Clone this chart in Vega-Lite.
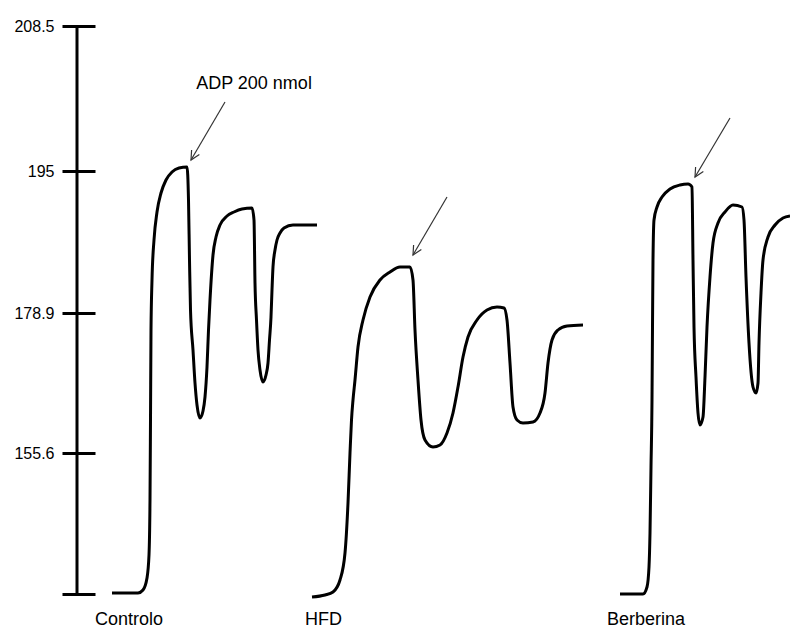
{
  "$schema": "https://vega.github.io/schema/vega-lite/v6.json",
  "width": 713,
  "height": 568,
  "autosize": {"type": "none"},
  "padding": {"left": 77, "top": 26, "right": 0, "bottom": 37},
  "background": "white",
  "config": {"view": {"stroke": null}, "font": "Liberation Sans"},
  "datasets": {
    "traces": [
      {"group": "Controlo", "t": 35, "v": 1}, {"group": "Controlo", "t": 61, "v": 1}, {"group": "Controlo", "t": 66, "v": 4}, {"group": "Controlo", "t": 70, "v": 16}, {"group": "Controlo", "t": 72, "v": 39}, {"group": "Controlo", "t": 73, "v": 94}, {"group": "Controlo", "t": 73.5, "v": 174}, {"group": "Controlo", "t": 74, "v": 264}, {"group": "Controlo", "t": 75, "v": 314}, {"group": "Controlo", "t": 77, "v": 354}, {"group": "Controlo", "t": 80, "v": 382}, {"group": "Controlo", "t": 84, "v": 401}, {"group": "Controlo", "t": 89, "v": 414}, {"group": "Controlo", "t": 95, "v": 422}, {"group": "Controlo", "t": 102, "v": 426}, {"group": "Controlo", "t": 110, "v": 427}, {"group": "Controlo", "t": 111.5, "v": 394}, {"group": "Controlo", "t": 112.5, "v": 334}, {"group": "Controlo", "t": 113.5, "v": 284}, {"group": "Controlo", "t": 116, "v": 244}, {"group": "Controlo", "t": 118, "v": 211}, {"group": "Controlo", "t": 120, "v": 189}, {"group": "Controlo", "t": 123, "v": 176}, {"group": "Controlo", "t": 126, "v": 183}, {"group": "Controlo", "t": 128, "v": 197}, {"group": "Controlo", "t": 130, "v": 227}, {"group": "Controlo", "t": 131.5, "v": 264}, {"group": "Controlo", "t": 133, "v": 294}, {"group": "Controlo", "t": 136, "v": 339}, {"group": "Controlo", "t": 139, "v": 357}, {"group": "Controlo", "t": 143, "v": 369}, {"group": "Controlo", "t": 150, "v": 378}, {"group": "Controlo", "t": 157, "v": 382}, {"group": "Controlo", "t": 165, "v": 385}, {"group": "Controlo", "t": 175, "v": 386}, {"group": "Controlo", "t": 177, "v": 374}, {"group": "Controlo", "t": 178, "v": 311}, {"group": "Controlo", "t": 179.5, "v": 274}, {"group": "Controlo", "t": 181, "v": 244}, {"group": "Controlo", "t": 183, "v": 224}, {"group": "Controlo", "t": 186, "v": 212}, {"group": "Controlo", "t": 189, "v": 219}, {"group": "Controlo", "t": 191, "v": 231}, {"group": "Controlo", "t": 192.5, "v": 254}, {"group": "Controlo", "t": 194, "v": 277}, {"group": "Controlo", "t": 195, "v": 304}, {"group": "Controlo", "t": 196, "v": 327}, {"group": "Controlo", "t": 198, "v": 344}, {"group": "Controlo", "t": 200, "v": 354}, {"group": "Controlo", "t": 203, "v": 361}, {"group": "Controlo", "t": 207, "v": 366}, {"group": "Controlo", "t": 216, "v": 369}, {"group": "Controlo", "t": 240, "v": 369},
      {"group": "HFD", "t": 235, "v": -3}, {"group": "HFD", "t": 248, "v": -1}, {"group": "HFD", "t": 256, "v": 2}, {"group": "HFD", "t": 263, "v": 14}, {"group": "HFD", "t": 268, "v": 41}, {"group": "HFD", "t": 271, "v": 91}, {"group": "HFD", "t": 273, "v": 141}, {"group": "HFD", "t": 274.5, "v": 174}, {"group": "HFD", "t": 276, "v": 194}, {"group": "HFD", "t": 278, "v": 214}, {"group": "HFD", "t": 281, "v": 247}, {"group": "HFD", "t": 286, "v": 274}, {"group": "HFD", "t": 293, "v": 297}, {"group": "HFD", "t": 303, "v": 314}, {"group": "HFD", "t": 313, "v": 322}, {"group": "HFD", "t": 323, "v": 327}, {"group": "HFD", "t": 333, "v": 327}, {"group": "HFD", "t": 336, "v": 314}, {"group": "HFD", "t": 338, "v": 264}, {"group": "HFD", "t": 341, "v": 214}, {"group": "HFD", "t": 344, "v": 174}, {"group": "HFD", "t": 348, "v": 154}, {"group": "HFD", "t": 356, "v": 147}, {"group": "HFD", "t": 363, "v": 149}, {"group": "HFD", "t": 370, "v": 161}, {"group": "HFD", "t": 376, "v": 181}, {"group": "HFD", "t": 381, "v": 207}, {"group": "HFD", "t": 386, "v": 237}, {"group": "HFD", "t": 391, "v": 257}, {"group": "HFD", "t": 400, "v": 274}, {"group": "HFD", "t": 410, "v": 284}, {"group": "HFD", "t": 420, "v": 287}, {"group": "HFD", "t": 427, "v": 286}, {"group": "HFD", "t": 430, "v": 274}, {"group": "HFD", "t": 433, "v": 231}, {"group": "HFD", "t": 436, "v": 187}, {"group": "HFD", "t": 440, "v": 174}, {"group": "HFD", "t": 446, "v": 171}, {"group": "HFD", "t": 456, "v": 172}, {"group": "HFD", "t": 463, "v": 181}, {"group": "HFD", "t": 468, "v": 201}, {"group": "HFD", "t": 471, "v": 231}, {"group": "HFD", "t": 475, "v": 254}, {"group": "HFD", "t": 481, "v": 264}, {"group": "HFD", "t": 490, "v": 268}, {"group": "HFD", "t": 506, "v": 269},
      {"group": "Berberina", "t": 543, "v": 0}, {"group": "Berberina", "t": 566, "v": 0}, {"group": "Berberina", "t": 570, "v": 7}, {"group": "Berberina", "t": 572, "v": 27}, {"group": "Berberina", "t": 573, "v": 61}, {"group": "Berberina", "t": 574, "v": 127}, {"group": "Berberina", "t": 575, "v": 194}, {"group": "Berberina", "t": 575.5, "v": 267}, {"group": "Berberina", "t": 576, "v": 334}, {"group": "Berberina", "t": 577, "v": 374}, {"group": "Berberina", "t": 580, "v": 387}, {"group": "Berberina", "t": 585, "v": 397}, {"group": "Berberina", "t": 593, "v": 405}, {"group": "Berberina", "t": 603, "v": 409}, {"group": "Berberina", "t": 611, "v": 410}, {"group": "Berberina", "t": 615, "v": 407}, {"group": "Berberina", "t": 616, "v": 334}, {"group": "Berberina", "t": 617, "v": 267}, {"group": "Berberina", "t": 619, "v": 217}, {"group": "Berberina", "t": 621, "v": 181}, {"group": "Berberina", "t": 623, "v": 169}, {"group": "Berberina", "t": 626, "v": 177}, {"group": "Berberina", "t": 628, "v": 217}, {"group": "Berberina", "t": 630, "v": 267}, {"group": "Berberina", "t": 633, "v": 317}, {"group": "Berberina", "t": 636, "v": 351}, {"group": "Berberina", "t": 641, "v": 371}, {"group": "Berberina", "t": 648, "v": 382}, {"group": "Berberina", "t": 656, "v": 389}, {"group": "Berberina", "t": 665, "v": 387}, {"group": "Berberina", "t": 667, "v": 374}, {"group": "Berberina", "t": 669, "v": 317}, {"group": "Berberina", "t": 672, "v": 251}, {"group": "Berberina", "t": 676, "v": 207}, {"group": "Berberina", "t": 679, "v": 201}, {"group": "Berberina", "t": 681, "v": 211}, {"group": "Berberina", "t": 682, "v": 251}, {"group": "Berberina", "t": 684, "v": 301}, {"group": "Berberina", "t": 686, "v": 334}, {"group": "Berberina", "t": 691, "v": 357}, {"group": "Berberina", "t": 698, "v": 369}, {"group": "Berberina", "t": 706, "v": 376}, {"group": "Berberina", "t": 713, "v": 378}
    ],
    "arrows": [
      {"group": "Controlo", "t": 148, "v": 492, "t2": 114, "v2": 434},
      {"group": "HFD", "t": 370, "v": 397, "t2": 336, "v2": 339},
      {"group": "Berberina", "t": 653, "v": 476, "t2": 618, "v2": 417}
    ],
    "labels": [
      {"text": "Controlo", "t": 52, "v": -31},
      {"text": "HFD", "t": 246.5, "v": -31},
      {"text": "Berberina", "t": 569, "v": -31}
    ],
    "notes": [
      {"text": "ADP 200 nmol", "t": 177, "v": 510}
    ],
    "axisline": [
      {"t": 0, "v": 0, "v2": 568}
    ]
  },
  "encoding": {
    "x": {"field": "t", "type": "quantitative", "scale": {"domain": [0, 713], "nice": false, "zero": false}, "axis": null},
    "y": {
      "field": "v", "type": "quantitative",
      "scale": {"domain": [0, 568], "nice": false, "zero": false},
      "axis": {
        "orient": "left", "offset": -18, "domain": false, "grid": false, "title": null,
        "values": [0, 141, 281, 423, 568],
        "labelExpr": "datum.value == 141 ? '155.6' : datum.value == 281 ? '178.9' : datum.value == 423 ? '195' : datum.value == 568 ? '208.5' : ''",
        "tickSize": 33, "tickWidth": 3, "tickColor": "black",
        "labelFontSize": 16, "labelFont": "Liberation Sans", "labelColor": "black", "labelPadding": 8
      }
    }
  },
  "layer": [
    {
      "data": {"name": "axisline"},
      "mark": {"type": "rule", "strokeWidth": 3, "color": "black"},
      "encoding": {"y2": {"field": "v2"}}
    },
    {
      "data": {"name": "traces"},
      "mark": {"type": "line", "color": "black", "strokeWidth": 3, "interpolate": "monotone", "strokeJoin": "round", "strokeCap": "butt", "clip": false},
      "encoding": {"detail": {"field": "group"}}
    },
    {
      "data": {"name": "arrows"},
      "mark": {"type": "rule", "color": "#333333", "strokeWidth": 1.2},
      "encoding": {"x2": {"field": "t2"}, "y2": {"field": "v2"}}
    },
    {
      "data": {"name": "arrows"},
      "mark": {"type": "point", "shape": "M-0.5,1L0,0L0.5,1", "filled": false, "stroke": "#333333", "strokeWidth": 1.2, "size": 320, "angle": 210, "opacity": 1},
      "encoding": {
        "x": {"field": "t2", "type": "quantitative", "scale": {"domain": [0, 713], "nice": false, "zero": false}, "axis": null},
        "y": {"field": "v2", "type": "quantitative", "scale": {"domain": [0, 568], "nice": false, "zero": false}}
      }
    },
    {
      "data": {"name": "notes"},
      "mark": {"type": "text", "fontSize": 18, "font": "Liberation Sans", "color": "black", "align": "center", "baseline": "middle"},
      "encoding": {"text": {"field": "text"}}
    },
    {
      "data": {"name": "labels"},
      "mark": {"type": "text", "fontSize": 18, "font": "Liberation Sans", "color": "black", "align": "center", "baseline": "alphabetic", "clip": false},
      "encoding": {"text": {"field": "text"}}
    }
  ]
}
